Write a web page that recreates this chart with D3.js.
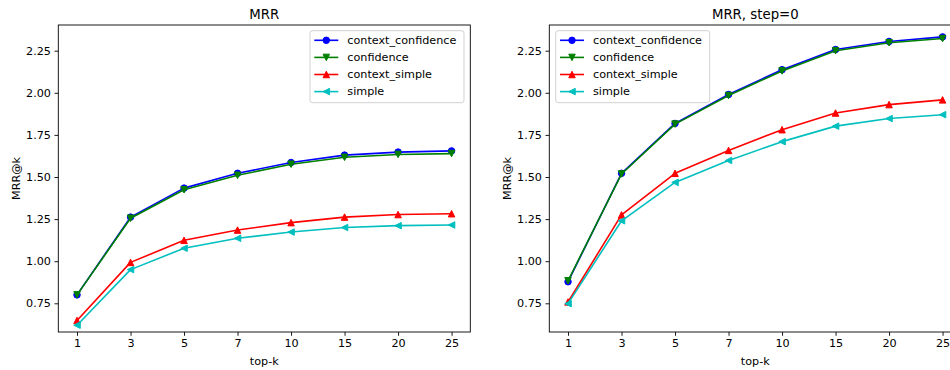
<!DOCTYPE html>
<html>
<head>
<meta charset="utf-8">
<script src="https://cdn.jsdelivr.net/npm/d3@7"></script>
<style>
  html, body { margin: 0; padding: 0; background: #fff; }
  svg { display: block; font-family: "DejaVu Sans", sans-serif; }
</style>
</head>
<body>
<svg id="chart" width="950" height="370"></svg>
<script>
// top-k cutoffs shown on the x axis (evenly spaced categories)
const topK = ["1", "3", "5", "7", "10", "15", "20", "25"];
const seriesNames = ["context_confidence", "confidence", "context_simple", "simple"];
const yTicks = [0.75, 1.00, 1.25, 1.50, 1.75, 2.00, 2.25];

// MRR@k, overall
const mrrContextConfidence = [0.800, 1.262, 1.434, 1.522, 1.586, 1.630, 1.648, 1.655];
const mrrConfidence        = [0.800, 1.255, 1.424, 1.510, 1.576, 1.617, 1.634, 1.639];
const mrrContextSimple     = [0.648, 0.993, 1.124, 1.185, 1.229, 1.262, 1.277, 1.282];
const mrrSimple            = [0.620, 0.950, 1.077, 1.136, 1.173, 1.200, 1.211, 1.215];

// MRR@k, step=0
const step0ContextConfidence = [0.878, 1.522, 1.818, 1.990, 2.137, 2.257, 2.305, 2.332];
const step0Confidence        = [0.884, 1.518, 1.814, 1.984, 2.130, 2.250, 2.297, 2.322];
const step0ContextSimple     = [0.758, 1.275, 1.522, 1.658, 1.781, 1.880, 1.930, 1.958];
const step0Simple            = [0.748, 1.240, 1.468, 1.598, 1.710, 1.802, 1.847, 1.870];

const styles = {
  context_confidence: { color: "#0000ff", marker: "circle" },
  confidence:         { color: "#008000", marker: "tri-down" },
  context_simple:     { color: "#ff0000", marker: "tri-up" },
  simple:             { color: "#00bfbf", marker: "tri-left" }
};

const panels = [
  { title: "MRR", left: 58.3, legendX: 310,
    series: [mrrContextConfidence, mrrConfidence, mrrContextSimple, mrrSimple] },
  { title: "MRR, step=0", left: 549.3, legendX: 555.7,
    series: [step0ContextConfidence, step0Confidence, step0ContextSimple, step0Simple] }
];

const svg = d3.select("#chart");
const axW = 412, axTop = 25, axBottom = 332;
const fs = 11.2;

function markerPath(kind, s) {
  const h = s / 2;
  switch (kind) {
    case "tri-down": return `M0,${h}L${-h},${-h}L${h},${-h}Z`;
    case "tri-up":   return `M0,${-h}L${-h},${h}L${h},${h}Z`;
    case "tri-left": return `M${-h},0L${h},${-h}L${h},${h}Z`;
    default: return null;
  }
}

function drawMarker(g, kind, color, x, y) {
  const s = 6.5;
  if (kind === "circle") {
    g.append("circle").attr("cx", x).attr("cy", y).attr("r", s / 2)
      .attr("fill", color).attr("stroke", color).attr("stroke-width", 1);
  } else {
    g.append("path").attr("d", markerPath(kind, s))
      .attr("transform", `translate(${x},${y})`)
      .attr("fill", color).attr("stroke", color).attr("stroke-width", 1)
      .attr("stroke-linejoin", "miter");
  }
}

panels.forEach(p => {
  const x = d3.scaleLinear().domain([-0.35, topK.length - 1 + 0.35]).range([p.left, p.left + axW]);
  const y = d3.scaleLinear().domain([0.5796, 2.4026]).range([axBottom, axTop]);
  const g = svg.append("g");

  // x axis
  const xAxis = d3.axisBottom(x)
    .tickValues(d3.range(topK.length))
    .tickFormat(i => topK[i])
    .tickSize(3.8).tickPadding(3.5);
  const gx = g.append("g").attr("transform", `translate(0,${axBottom})`).call(xAxis);
  gx.select(".domain").remove();
  gx.selectAll("line").attr("stroke", "#000").attr("stroke-width", 0.9);
  gx.selectAll("text").attr("font-size", fs).attr("fill", "#000")
    .attr("font-family", "DejaVu Sans");

  // y axis
  const yAxis = d3.axisLeft(y).tickValues(yTicks).tickFormat(d3.format(".2f"))
    .tickSize(3.8).tickPadding(3.5);
  const gy = g.append("g").attr("transform", `translate(${p.left},0)`).call(yAxis);
  gy.select(".domain").remove();
  gy.selectAll("line").attr("stroke", "#000").attr("stroke-width", 0.9);
  gy.selectAll("text").attr("font-size", fs).attr("fill", "#000")
    .attr("font-family", "DejaVu Sans");

  // series lines + markers
  const line = d3.line().x((d, i) => x(i)).y(d => y(d));
  p.series.forEach((vals, si) => {
    const st = styles[seriesNames[si]];
    g.append("path").datum(vals).attr("d", line)
      .attr("fill", "none").attr("stroke", st.color).attr("stroke-width", 1.6)
      .attr("stroke-linejoin", "round");
    vals.forEach((v, i) => drawMarker(g, st.marker, st.color, x(i), y(v)));
  });

  // frame
  g.append("rect").attr("x", p.left).attr("y", axTop)
    .attr("width", axW).attr("height", axBottom - axTop)
    .attr("fill", "none").attr("stroke", "#000").attr("stroke-width", 0.9);

  // title and axis labels
  g.append("text").attr("x", p.left + axW / 2).attr("y", 19)
    .attr("text-anchor", "middle").attr("font-size", 13.3).text(p.title);
  g.append("text").attr("x", p.left + axW / 2).attr("y", 365)
    .attr("text-anchor", "middle").attr("font-size", fs).text("top-k");
  g.append("text")
    .attr("transform", `translate(${p.left - 42},${(axTop + axBottom) / 2}) rotate(-90)`)
    .attr("text-anchor", "middle").attr("dominant-baseline", "central")
    .attr("font-size", fs).text("MRR@k");

  // legend
  const lg = g.append("g");
  lg.append("rect").attr("x", p.legendX).attr("y", 30.7)
    .attr("width", 154).attr("height", 72).attr("rx", 2.5)
    .attr("fill", "#fff").attr("fill-opacity", 0.8)
    .attr("stroke", "#cccccc").attr("stroke-width", 0.9);
  seriesNames.forEach((name, i) => {
    const st = styles[name];
    const cy = 40.3 + i * 17.1;
    const lx = p.legendX + 4.3;
    lg.append("line").attr("x1", lx).attr("x2", lx + 24).attr("y1", cy).attr("y2", cy)
      .attr("stroke", st.color).attr("stroke-width", 1.6);
    drawMarker(lg, st.marker, st.color, lx + 12, cy);
    lg.append("text").attr("x", p.legendX + 37.3).attr("y", cy)
      .attr("dominant-baseline", "central").attr("font-size", fs).text(name);
  });
});
</script>
</body>
</html>
